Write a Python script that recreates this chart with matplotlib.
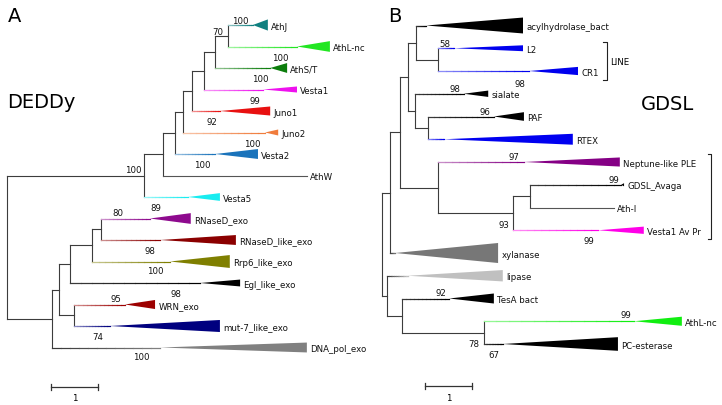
import colorsys

import matplotlib
matplotlib.use('Agg')
import matplotlib.pyplot as plt
import numpy as np
from matplotlib.collections import LineCollection
from matplotlib.colors import to_rgb

# ---- panel A : DEDDy tree (x = branch length, y = leaf slot) ----
A_names = ['AthJ', 'AthL-nc', 'AthS/T', 'Vesta1', 'Juno1', 'Juno2', 'Vesta2', 'AthW',
           'Vesta5', 'RNaseD_exo', 'RNaseD_like_exo', 'Rrp6_like_exo', 'Egl_like_exo',
           'WRN_exo', 'mut-7_like_exo', 'DNA_pol_exo']
A_colors = ['#108080', '#22e622', '#0c7d0c', '#ee11ee', '#e81010', '#f07c3c', '#1a73bb', None,
            '#19ecf0', '#8e0a8e', '#8b0000', '#7f7f00', '#000000', '#9c0000', '#00007f', '#808080']
A_apex = [5.23, 6.17, 5.60, 5.45, 4.53, 5.49, 4.43, None, 3.85, 3.04, 3.26, 3.47, 4.11, 2.51, 2.19, 3.26]
A_tip = [5.55, 6.87, 5.96, 6.17, 5.60, 5.77, 5.34, 6.38, 4.53, 3.91, 4.87, 4.74, 4.96, 3.15, 4.53, 6.38]
A_half = [0.26, 0.25, 0.23, 0.14, 0.21, 0.14, 0.23, 0, 0.18, 0.25, 0.23, 0.30, 0.16, 0.21, 0.28, 0.23]
A_nodes = {
    'r': (0.00, ['n1', 'm1']),
    'n1': (2.92, ['n2', 8]),
    'n2': (3.32, ['n3', 7]),
    'n3': (3.57, ['n4', 6]),
    'n4': (3.74, ['n5', 5]),
    'n5': (3.94, ['n6', 4]),
    'n6': (4.19, ['n7', 3]),
    'n7': (4.43, ['n8', 2]),
    'n8': (4.70, [0, 1]),
    'm1': (0.96, ['m2', 15]),
    'm2': (1.11, ['m3', 'm6']),
    'm3': (1.34, ['m4', 12]),
    'm4': (1.81, ['m5', 11]),
    'm5': (2.00, [9, 10]),
    'm6': (1.43, [13, 14]),
}
A_boot = ['100', '70', '100', '100', '99', '92', '100', '100', '100', '89', '80', '98',
          '100', '98', '95', '74', '100']
A_boot_x = [4.96, 4.49, 5.81, 5.38, 5.28, 4.36, 5.22, 4.16, 2.68, 3.16, 2.36, 3.04,
            3.16, 3.60, 2.32, 1.94, 2.85]
A_boot_y = [-0.23, 0.28, 1.49, 2.47, 3.49, 4.49, 5.49, 6.51, 6.74, 8.47, 8.74, 10.47,
            11.44, 12.47, 12.74, 14.47, 15.44]

# ---- panel B : GDSL tree ----
B_names = ['acylhydrolase_bact', 'L2', 'CR1', 'sialate', 'PAF', 'RTEX', 'Neptune-like PLE',
           'GDSL_Avaga', 'Ath-I', 'Vesta1 Av Pr', 'xylanase', 'lipase', 'TesA bact',
           'AthL-nc', 'PC-esterase']
B_colors = ['#000000', '#0000ee', '#0000ee', '#000000', '#000000', '#0000f0', '#850085',
            '#000000', None, '#ff00e8', '#777777', '#c0c0c0', '#000000', '#11ee11', '#000000']
B_apex = [0.94, 1.53, 3.13, 1.74, 2.38, 1.32, 3.02, 5.09, None, 4.60, 0.28, 0.55, 1.43, 5.36, 2.57]
B_tip = [3.00, 3.00, 4.17, 2.26, 3.02, 4.06, 5.06, 5.15, 4.94, 5.57, 2.47, 2.57, 2.38, 6.38, 5.02]
B_half = [0.35, 0.13, 0.18, 0.14, 0.19, 0.24, 0.20, 0.07, 0, 0.16, 0.44, 0.25, 0.22, 0.20, 0.30]
B_nodes = {
    'r': (0.00, ['p1', 'q1']),
    'p1': (0.17, ['p2', 10]),
    'p2': (0.38, ['p3', 'p7']),
    'p3': (0.55, ['p4', 'p6']),
    'p4': (0.72, [0, 'p5']),
    'p5': (1.19, [1, 2]),
    'p6': (0.70, [3, 'p8']),
    'p8': (0.98, [4, 5]),
    'p7': (1.19, [6, 'p9']),
    'p9': (2.79, ['p10', 9]),
    'p10': (3.15, [7, 8]),
    'q1': (0.11, [11, 'q2']),
    'q2': (0.43, [12, 'q3']),
    'q3': (2.17, [13, 14]),
}
B_boot = ['58', '98', '98', '96', '97', '99', '93', '99', '92', '99', '78', '67']
B_boot_x = [1.34, 2.94, 1.56, 2.19, 2.81, 4.93, 2.60, 4.40, 1.26, 5.19, 1.96, 2.38]
B_boot_y = [0.77, 2.55, 2.79, 3.78, 5.76, 6.77, 8.73, 9.47, 11.74, 12.70, 14.00, 14.46]

LINE = '#3c3c3c'
FS = 6.2

fig = plt.figure(figsize=(7.22, 4.06), dpi=100)
axA = fig.add_axes([0, 0, 1, 1])
axB = fig.add_axes([0, 0, 1, 1])
# map branch-length units / leaf slots onto the figure (47 px per unit)
axA.set_xlim(-7 / 47, 715 / 47)
axA.set_ylim(380 / 21.5, -26 / 21.5)
axB.set_xlim(-382 / 47, 340 / 47)
axB.set_ylim(379.5 / 22.75, -26.5 / 22.75)
for ax in (axA, axB):
    ax.axis('off')
    ax.patch.set_alpha(0)


def pale(c, f):
    r, g, b = to_rgb(c)
    return (r + (1 - r) * f, g + (1 - g) * f, b + (1 - b) * f)


def draw_tree(ax, names, colors, apex, tip, half, nodes):
    ys = {}

    def place(k):
        if isinstance(k, int):
            return k
        yy = [place(c) for c in nodes[k][1]]
        ys[k] = (yy[0] + yy[-1]) / 2
        return ys[k]

    place('r')
    for k, (d, kids) in nodes.items():
        ky = [k2 if isinstance(k2, int) else ys[k2] for k2 in kids]
        ax.plot([d, d], [min(ky), max(ky)], color=LINE, lw=0.8, solid_capstyle='projecting')
        for c in kids:
            if not isinstance(c, int):
                ax.plot([d, nodes[c][0]], [ys[c], ys[c]], color=LINE, lw=0.8)
                continue
            col = colors[c]
            if col is None:
                ax.plot([d, tip[c]], [c, c], color='#555555', lw=0.8)
            else:
                h, l, s = colorsys.rgb_to_hls(*to_rgb(col))
                start = pale(col, 0.55) if s > 0.3 else to_rgb('#3a3a3a')
                n = 12
                xs = np.linspace(d, apex[c], n + 1)
                t = np.linspace(0, 1, n)[:, None]
                cols = np.array(start) * (1 - t) + np.array(to_rgb(col)) * t
                # solid underlay so the gradient has no seams
                ax.plot([d, apex[c]], [c, c], color=cols[n // 2], lw=0.8)
                seg = [[(xs[j], c), (xs[j + 1], c)] for j in range(n)]
                ax.add_collection(LineCollection(seg, colors=cols, linewidths=0.8,
                                                 capstyle='projecting'))
                ax.fill([apex[c], tip[c], tip[c]], [c, c - half[c], c + half[c]],
                        color=col, lw=0)
            ax.annotate(names[c], (tip[c], c), xytext=(2.3, -0.8), textcoords='offset points',
                        va='center', ha='left', fontsize=FS, color='#111111')


draw_tree(axA, A_names, A_colors, A_apex, A_tip, A_half, A_nodes)
draw_tree(axB, B_names, B_colors, B_apex, B_tip, B_half, B_nodes)

for t, x, y in zip(A_boot, A_boot_x, A_boot_y):
    axA.text(x, y, t, ha='center', va='center', fontsize=FS, color='#111111')
for t, x, y in zip(B_boot, B_boot_x, B_boot_y):
    axB.text(x, y, t, ha='center', va='center', fontsize=FS, color='#111111')

# scale bars (1 unit)
for ax, x0, y0, dy in [(axA, 0.94, 16.84, 0.14), (axB, 0.915, 15.86, 0.13)]:
    ax.plot([x0, x0 + 1], [y0, y0], color='#333333', lw=0.9)
    ax.plot([x0, x0], [y0 - dy, y0 + dy], color='#333333', lw=0.9)
    ax.plot([x0 + 1, x0 + 1], [y0 - dy, y0 + dy], color='#333333', lw=0.9)
    ax.text(x0 + 0.5, y0 + 0.5, '1', ha='center', va='center', fontsize=FS)

# brackets in panel B
axB.plot([4.71, 4.79, 4.79, 4.71], [0.725, 0.725, 2.40, 2.40], color='#222222', lw=0.8)
axB.text(4.86, 1.6, 'LINE', va='center', ha='left', fontsize=FS)
axB.plot([6.93, 7.01, 7.01, 6.93], [5.65, 5.65, 9.38, 9.38], color='#222222', lw=0.8)

fig.text(8 / 722, 1 - 17 / 406, 'A', fontsize=14, va='center', ha='left')
fig.text(7 / 722, 1 - 102 / 406, 'DEDDy', fontsize=14, va='center', ha='left')
fig.text(388 / 722, 1 - 17 / 406, 'B', fontsize=14, va='center', ha='left')
fig.text(641 / 722, 1 - 104 / 406, 'GDSL', fontsize=14, va='center', ha='left')

fig.savefig('out.png', dpi=100)
